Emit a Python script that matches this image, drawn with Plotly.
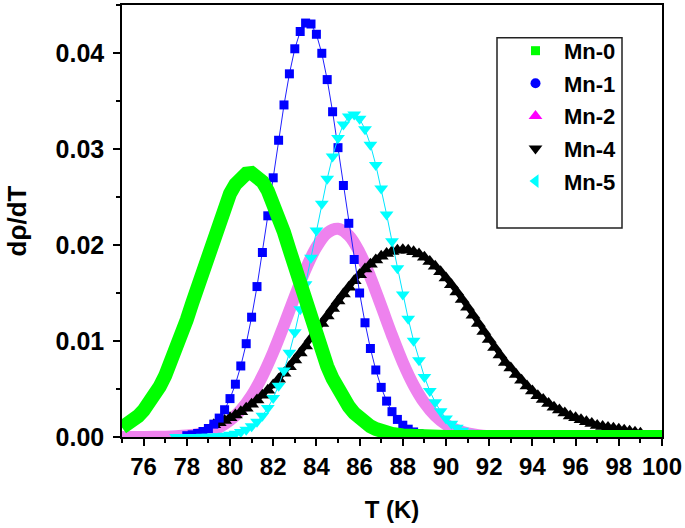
import plotly.graph_objects as go

# ---------------- data ----------------
# Mn-0 : T from 75.0 to 87.0 step 0.25, then sparse tail points
mn0_T_head_start, mn0_T_step = 75.0, 0.25
mn0_vals_head = [0.00099, 0.00130, 0.00169, 0.00218, 0.00277, 0.00347, 0.00430, 0.00527,
                 0.00639, 0.00765, 0.00905, 0.01057, 0.01222, 0.01395, 0.01574, 0.01755,
                 0.01934, 0.02106, 0.02267, 0.02411, 0.02534, 0.02632, 0.02702, 0.02742,
                 0.02749, 0.02721, 0.02659, 0.02565, 0.02443, 0.02297, 0.02132, 0.01953,
                 0.01766, 0.01577, 0.01390, 0.01209, 0.01039, 0.00881, 0.00737, 0.00609,
                 0.00497, 0.00400, 0.00318, 0.00249, 0.00193, 0.00148, 0.00111, 0.00083,
                 0.00061]
mn0_T_tail = [87.5, 88.0, 88.5, 89.0, 90.0, 92.0, 94.0, 96.0, 98.0, 100.0]
mn0_vals_tail = [0.00032, 0.00016, 0.00007, 0.00003, 0.0, 0.0, 0.0, 0.0, 0.0, 0.0]

# Mn-1 : T from 78.0 step 0.25
mn1_T_start, mn1_T_step = 78.0, 0.25
mn1_vals = [0.000137, 0.000225, 0.000364, 0.000575, 0.000886, 0.00134, 0.00197, 0.00284,
            0.00400, 0.00550, 0.00740, 0.00972, 0.01248, 0.01567, 0.01922, 0.02304,
            0.02700, 0.03091, 0.03459, 0.03783, 0.04044, 0.04224, 0.04312, 0.04302,
            0.04195, 0.03997, 0.03723, 0.03388, 0.03014, 0.02620, 0.02226, 0.01849,
            0.01500, 0.01190, 0.00922, 0.00698, 0.00517, 0.00374, 0.00264, 0.00183,
            0.00123, 0.000815, 0.000525, 0.000331, 0.000204, 0.000123, 0.000072,
            0.000042, 0.000023]

# Mn-2 : T from 75.0 step 0.5
mn2_T_start, mn2_T_step = 75.0, 0.5
mn2_vals = [0.000001, 0.000002, 0.0000055, 0.000014, 0.000032, 0.00007, 0.000148, 0.000296,
            0.00056, 0.00101, 0.00173, 0.00281, 0.00433, 0.00635, 0.00883, 0.01167,
            0.01465, 0.01746, 0.01977, 0.02125, 0.02169, 0.02099, 0.01922, 0.01665,
            0.01365, 0.01060, 0.00778, 0.00541, 0.00356, 0.00221, 0.00130, 0.00073,
            0.00038, 0.00019, 0.00009]

# Mn-4 : T from 79.25 step 0.25
mn4_T_start, mn4_T_step = 79.25, 0.25
mn4_vals = [0.00128, 0.00149, 0.00173, 0.00200, 0.00230, 0.00263, 0.00300, 0.00341,
            0.00386, 0.00434, 0.00486, 0.00542, 0.00601, 0.00665, 0.00731, 0.00801,
            0.00874, 0.00949, 0.01025, 0.01104, 0.01182, 0.01261, 0.01339, 0.01416,
            0.01490, 0.01561, 0.01628, 0.01691, 0.01749, 0.01800, 0.01845, 0.01882,
            0.01911, 0.01933, 0.01946, 0.01950,
            0.01945, 0.01930, 0.01906, 0.01872, 0.01829, 0.01779, 0.01721, 0.01656,
            0.01586, 0.01511, 0.01432, 0.01351, 0.01267, 0.01183, 0.01098, 0.01015,
            0.00933, 0.00853, 0.00777,
            0.0072, 0.0065, 0.0059, 0.0053, 0.0048, 0.0043, 0.0039, 0.0035, 0.0031,
            0.0028, 0.0025, 0.0022, 0.0020, 0.0018, 0.0016, 0.0014, 0.0012, 0.0011,
            0.0010, 0.0009, 0.0008, 0.0007, 0.0006, 0.0005, 0.0004]

# Mn-5 : T from 77.5 step 0.25
mn5_T_start, mn5_T_step = 77.5, 0.25
mn5_vals = [0.000001, 0.000002, 0.0000036, 0.0000064, 0.0000113, 0.0000194, 0.000033,
            0.000055, 0.000089, 0.000142, 0.000223, 0.000343, 0.000518, 0.000766,
            0.00111, 0.00158, 0.00221, 0.00302, 0.00406, 0.00535, 0.00692, 0.00877,
            0.01091, 0.01331, 0.01592, 0.01868, 0.02151, 0.02429, 0.02690, 0.02923,
            0.03115, 0.03256, 0.03339, 0.03359, 0.03314, 0.03207, 0.03044, 0.02834,
            0.02589, 0.02319, 0.02038, 0.01757, 0.01485, 0.01232, 0.01002, 0.00800,
            0.00626, 0.00480, 0.00362, 0.00267, 0.00194, 0.00138, 0.00096, 0.00066,
            0.00044, 0.00029, 0.00019, 0.00012, 0.00007]

series_names = ["Mn-0", "Mn-1", "Mn-2", "Mn-4", "Mn-5"]
x_tick_vals = [76, 78, 80, 82, 84, 86, 88, 90, 92, 94, 96, 98, 100]
y_tick_vals = [0.00, 0.01, 0.02, 0.03, 0.04]


def grid(start, step, n):
    return [round(start + step * i, 4) for i in range(n)]


mn0_T = grid(mn0_T_head_start, mn0_T_step, len(mn0_vals_head)) + mn0_T_tail
mn0_vals = mn0_vals_head + mn0_vals_tail
mn1_T = grid(mn1_T_start, mn1_T_step, len(mn1_vals))
mn2_T = grid(mn2_T_start, mn2_T_step, len(mn2_vals))
mn4_T = grid(mn4_T_start, mn4_T_step, len(mn4_vals))
mn5_T = grid(mn5_T_start, mn5_T_step, len(mn5_vals))

FONT = "Liberation Sans, Arial, sans-serif"

# plot-area geometry in pixels (for the legend frame)
L, R, T, B = 122, 23, 3, 91
W, H = 685, 528
PW, PH = W - L - R, H - T - B


def px_to_paper(xp, yp):
    return (xp - L) / PW, (H - B - yp) / PH


fig = go.Figure()

# drawing order (bottom -> top)
fig.add_trace(go.Scatter(x=mn2_T, y=mn2_vals, mode="lines", line=dict(color="#ee82ee", width=12, shape="spline"),
                         showlegend=False, hoverinfo="skip"))
fig.add_trace(go.Scatter(x=mn4_T, y=mn4_vals, mode="lines+markers", line=dict(color="black", width=5),
                         marker=dict(symbol="triangle-up", size=13, color="black", line=dict(width=0)),
                         showlegend=False))
fig.add_trace(go.Scatter(x=mn1_T, y=mn1_vals, mode="lines+markers", line=dict(color="#2020ff", width=1),
                         marker=dict(symbol="square", size=9, color="#0000ff", line=dict(width=0)),
                         showlegend=False))
fig.add_trace(go.Scatter(x=mn5_T, y=mn5_vals, mode="lines+markers", line=dict(color="#00e5ff", width=1),
                         marker=dict(symbol="triangle-down", size=12, color="#00ffff", line=dict(width=0)),
                         showlegend=False))
fig.add_trace(go.Scatter(x=mn0_T, y=mn0_vals, mode="lines", line=dict(color="#00ff00", width=14),
                         showlegend=False))

# legend entries (symbols as shown in the reference legend)
legend_styles = [
    ("square", "#00ff00", 9),
    ("circle", "#0000ff", 10),
    ("triangle-up", "#ff00ff", 12),
    ("triangle-down", "#000000", 12),
    ("triangle-left", "#00ffff", 12),
]
for name, (sym, col, sz) in zip(series_names, legend_styles):
    fig.add_trace(go.Scatter(x=[None], y=[None], mode="markers", name=name, legendgroup=name,
                             marker=dict(symbol=sym, color=col, size=sz, line=dict(width=0))))

# legend frame
fx0, fy0 = px_to_paper(497, 36)
fx1, fy1 = px_to_paper(622, 227)
fig.add_shape(type="rect", xref="paper", yref="paper", x0=fx0, x1=fx1, y0=fy1, y1=fy0,
              line=dict(color="#222222", width=1.5), fillcolor="rgba(0,0,0,0)", layer="above")

lgx, lgy = px_to_paper(507, 28)

axis_common = dict(
    ticks="outside", ticklen=7, tickwidth=1.5, tickcolor="black",
    showline=True, linecolor="black", linewidth=1.5, mirror=True,
    showgrid=False, zeroline=False,
)

fig.update_layout(
    width=W, height=H,
    margin=dict(l=L, r=R, t=T, b=B),
    paper_bgcolor="white", plot_bgcolor="white",
    font=dict(family=FONT, color="black"),
    showlegend=True,
    legend=dict(
        x=lgx, y=lgy, xanchor="left", yanchor="top",
        borderwidth=0, bgcolor="rgba(0,0,0,0)",
        font=dict(family=FONT, size=22, weight="bold", color="black"),
        itemwidth=47, traceorder="grouped", tracegroupgap=1,
    ),
    xaxis=dict(
        range=[75, 100], tickvals=x_tick_vals,
        tickfont=dict(family=FONT, size=24, weight="bold", color="black"),
        title=dict(text="T (K)", font=dict(family=FONT, size=24, weight="bold", color="black"), standoff=23),
        minor=dict(dtick=1, tick0=75, ticks="outside", ticklen=4, tickwidth=1.5, tickcolor="black", showgrid=False),
        **axis_common,
    ),
    yaxis=dict(
        range=[0, 0.045], tickvals=y_tick_vals, tickformat=".2f", ticklabelstandoff=4,
        tickfont=dict(family=FONT, size=25, weight="bold", color="black"),
        title=dict(text="dρ/dT", font=dict(family=FONT, size=26, weight="bold", color="black"), standoff=21),
        minor=dict(dtick=0.005, tick0=0, ticks="outside", ticklen=4, tickwidth=1.5, tickcolor="black", showgrid=False),
        **axis_common,
    ),
)

fig.write_html("out.html", config={"displayModeBar": False},
               post_script="document.body.style.margin='0px';")
